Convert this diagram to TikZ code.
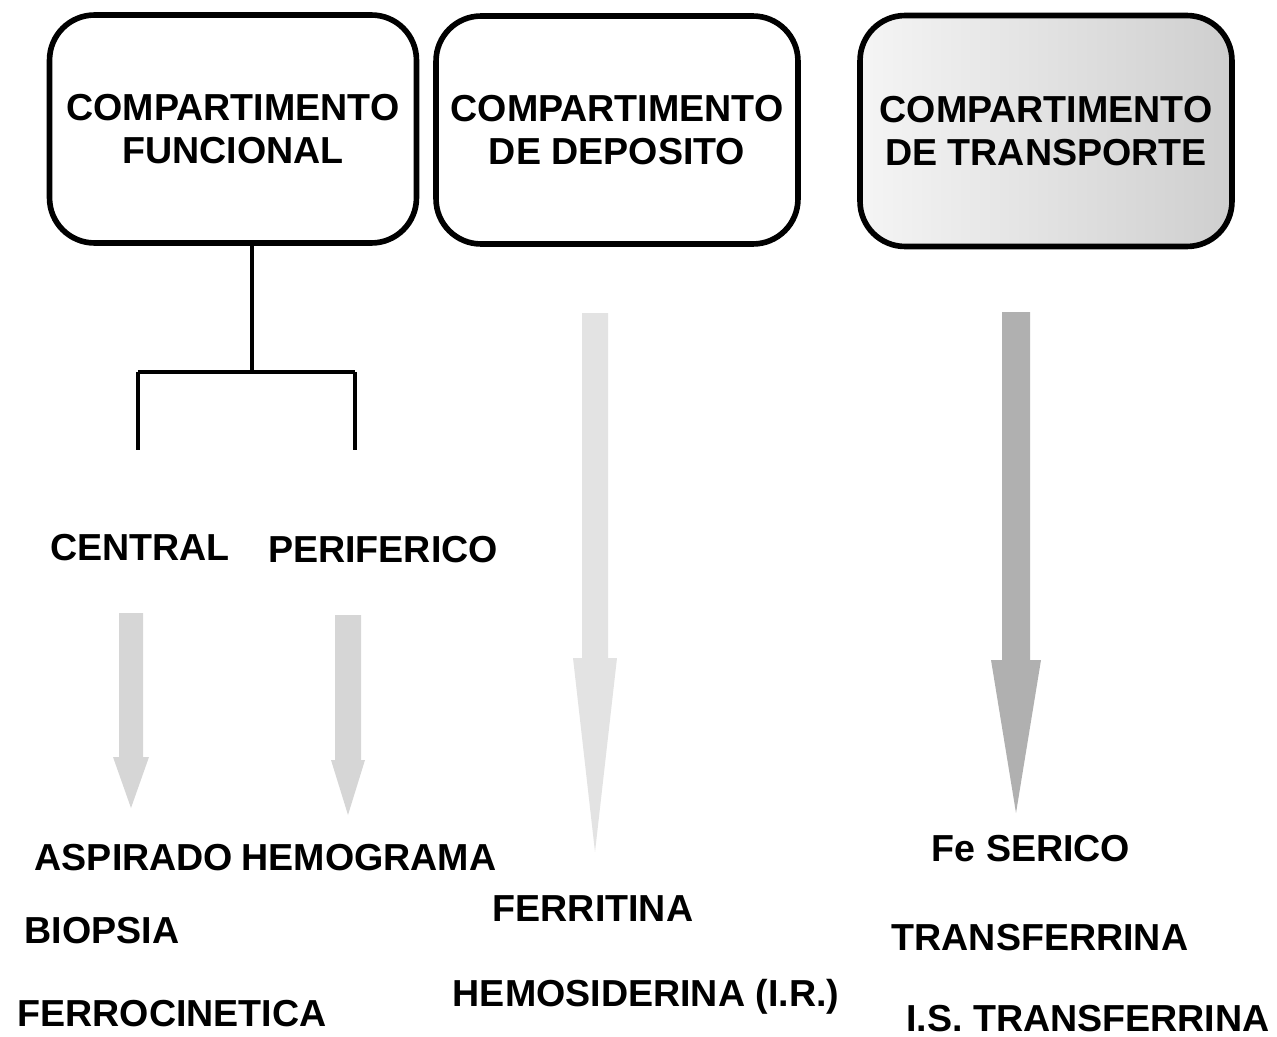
\documentclass[tikz,border=0pt]{standalone}
\usepackage{fontspec}
\setmainfont{Liberation Sans}
\usetikzlibrary{positioning}
\newcommand{\labelfont}{\bfseries\fontsize{21.4}{24.5}\selectfont}
% x, top, head base, tip, half shaft, half head, colour
\newcommand{\fatarrow}[7]{%
  \fill[#7] ({#1-#5},#2) -- ({#1+#5},#2) -- ({#1+#5},#3) -- ({#1+#6},#3)
    -- (#1,#4) -- ({#1-#6},#3) -- ({#1-#5},#3) -- cycle;}
\tikzset{
    compbox/.style={draw, line width=3.2pt, rounded corners=0.9cm, align=center, font=\labelfont},
    lbl/.style={font=\labelfont, anchor=base, inner sep=0pt},
    treeline/.style={line width=1.8pt}}

\begin{document}
\begin{tikzpicture}[x=0.02cm, y=-0.02cm]
                \useasboundingbox (0,0) rectangle (1277,1037);

                    \node[compbox, minimum width=7.34cm, minimum height=4.56cm] (func) at (233,129) {COMPARTIMENTO\\FUNCIONAL};
                    \node[compbox, minimum width=7.24cm, minimum height=4.56cm] (depo) at (617,130) {COMPARTIMENTO\\DE DEPOSITO};
                    \node[compbox, minimum width=7.44cm, minimum height=4.62cm, left color=gray!8, right color=gray!38] (trans) at (1046,131) {COMPARTIMENTO\\DE TRANSPORTE};

                    \coordinate (split) at (252,372);
                    \coordinate (cl) at (138,372);
                    \coordinate (cr) at (355,372);
                    \coordinate (clend) at (138,450);
                    \coordinate (crend) at (355,450);

                    \draw[treeline] (func.south -| split) -- (split);
                    \draw[treeline] (cl) -- (cr);
                    \draw[treeline] (cl) -- (clend);
                    \draw[treeline] (cr) -- (crend);

                    \node[lbl] (central) at (140,560) {CENTRAL};
                    \node[lbl] (perif) at (383,562) {PERIFERICO};

                    \fatarrow{131}{613}{757}{808}{12}{18}{gray!32}
                    \fatarrow{348}{615}{760}{815}{13}{17}{gray!32}
                    \fatarrow{595}{313}{658}{852}{13}{22}{gray!22}
                    \fatarrow{1016}{312}{660}{813}{14}{25}{gray!62}

                    \node[lbl] (aspir) at (134,870) {ASPIRADO};
                    \node[lbl] (hemog) at (369,870) {HEMOGRAMA};
                    \node[lbl] (biops) at (102,943) {BIOPSIA};
                    \node[lbl] (ferroc) at (172,1026) {FERROCINETICA};

                    \node[lbl] (ferrit) at (593,921) {FERRITINA};
                    \node[lbl] (hemos) at (646,1006) {HEMOSIDERINA (I.R.)};

                    \node[lbl] (feser) at (1031,861) {Fe SERICO};
                    \node[lbl] (transf) at (1040,950) {TRANSFERRINA};
                    \node[lbl] (istransf) at (1088,1031) {I.S. TRANSFERRINA};

                \end{tikzpicture}
\end{document}
